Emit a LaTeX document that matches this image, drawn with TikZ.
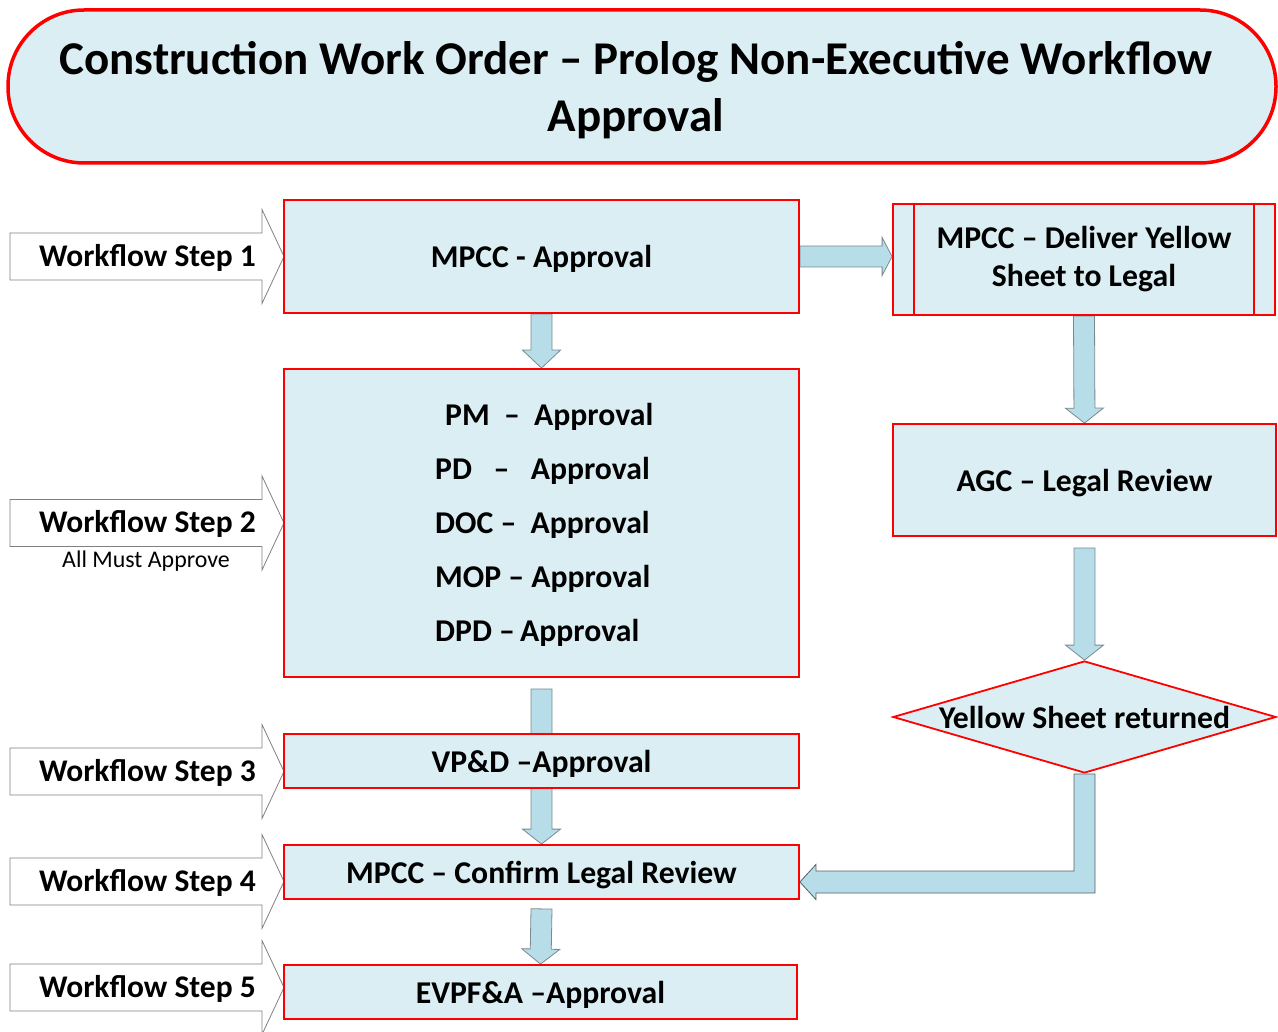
\documentclass[tikz,border=0pt]{standalone}
\usepackage{fontspec}
\setmainfont{Carlito}
\usetikzlibrary{shapes.geometric, calc, positioning, backgrounds}

\definecolor{boxblue}{HTML}{DAEEF3}
\definecolor{arrowblue}{HTML}{B7DDE8}
\definecolor{arrowgray}{HTML}{7A8A90}

% block arrow from #1 to #2, head length #3
\newcommand{\blockarrow}[3][15pt]{%
  \coordinate (hb) at ($(#3)!#1!(#2)$);
  \filldraw[blockarrow] ($(#2)!10.5pt!90:(#3)$) -- ($(hb)!10.5pt!90:(#3)$)
    -- ($(hb)!19pt!90:(#3)$) -- (#3) -- ($(hb)!19pt!-90:(#3)$)
    -- ($(hb)!10.5pt!-90:(#3)$) -- ($(#2)!10.5pt!-90:(#3)$) -- cycle;}

\tikzset{
  box/.style={draw=red, line width=1.8pt, fill=boxblue, inner sep=0pt,
    font=\bfseries\fontsize{31.7}{38}\selectfont},
  boxtext/.style={font=\bfseries\fontsize{31.7}{38}\selectfont, inner sep=0pt, text depth=0pt},
  blockarrow/.style={fill=arrowblue, draw=arrowgray, line width=0.8pt},
  steparrow/.style={fill=white, draw=gray, line width=0.8pt},
  steptext/.style={font=\bfseries\fontsize{31.5}{38}\selectfont, inner sep=0pt},
  approval/.style={font=\bfseries\fontsize{31.7}{38}\selectfont, inner sep=0pt, anchor=west}
}

\begin{document}
\begin{tikzpicture}[x=1pt, y=-1pt]
\useasboundingbox (0,0) rectangle (1278,1032);

% title
\node[draw=red, line width=3.5pt, fill=boxblue, rounded corners=76pt,
      minimum width=1268pt, minimum height=153pt] (title) at (642,86.5) {};
\node[align=center, inner sep=0pt, font=\bfseries\fontsize{47}{57}\selectfont] (titletext)
  at (636,90) {Construction Work Order -- Prolog Non-Executive Workflow\\Approval};

% workflow steps
\foreach \y/\n in {256.5/1, 523/2, 771.5/3, 881.5/4, 987.5/5} {
  \draw[steparrow] (10,\y-23.5) -- (262,\y-23.5) -- (262,\y-47) -- (284,\y)
    -- (262,\y+47) -- (262,\y+23.5) -- (10,\y+23.5) -- cycle;
  \node[steptext, anchor=east] (step\n) at (256,\y+1) {Workflow Step \n};
}
\node[font=\fontsize{23.9}{28}\selectfont, inner sep=0pt] (allmust) at (146,561) {All Must Approve};

% left column
\node[box, minimum width=515pt, minimum height=113pt] (mpcc) at (541.5,256.5) {};
\node[boxtext] (mpcctext) at (mpcc.center) {MPCC - Approval};
\node[box, minimum width=515pt, minimum height=308pt] (approvals) at (541.5,523) {};
\node[approval] (pm) at (445,417) {PM\ \ --\ \ Approval};
\node[approval] (pd) at (435,471) {PD\ \ \ --\ \ \ Approval};
\node[approval] (doc) at (435,525) {DOC\ --\ \ Approval};
\node[approval] (mop) at (435,579) {MOP\ --\ Approval};
\node[approval] (dpd) at (435,633) {DPD --\,Approval};
\node[box, minimum width=515pt, minimum height=54pt] (vpd) at (541.5,761) {};
\node[boxtext] (vpdtext) at (vpd.center) {VP\&D --Approval};
\node[box, minimum width=515pt, minimum height=54pt] (confirm) at (541.5,872) {};
\node[boxtext] (confirmtext) at (confirm.center) {MPCC -- Confirm Legal Review};
\node[box, minimum width=513pt, minimum height=54pt] (evpfa) at (540.5,992) {};
\node[boxtext] (evpfatext) at (evpfa.center) {EVPF\&A --Approval};

% right column
\node[box, minimum width=382pt, minimum height=111pt, align=center,
      font=\bfseries\fontsize{31.7}{38}\selectfont] (deliver) at (1084,259.5)
  {MPCC -- Deliver Yellow\\Sheet to Legal};
\draw[red, line width=1.8pt] ([xshift=22pt]deliver.north west) -- ([xshift=22pt]deliver.south west);
\draw[red, line width=1.8pt] ([xshift=-22pt]deliver.north east) -- ([xshift=-22pt]deliver.south east);
\node[box, minimum width=383pt, minimum height=112pt] (agc) at (1084.5,480) {};
\node[boxtext] (agctext) at (agc.center) {AGC -- Legal Review};
\node[box, diamond, minimum width=383pt, minimum height=112pt] (dia) at (1084.5,717) {};
\node[boxtext] (returned) at (dia.center) {Yellow Sheet returned};

% block arrows behind the boxes
\begin{pgfonlayer}{background}
\blockarrow[18pt]{mpcc.south}{approvals.north}
\blockarrow{$(approvals.south)+(0,11)$}{confirm.north}
\blockarrow{$(confirm.south)+(0,9)$}{evpfa.north}
\blockarrow[10pt]{mpcc.east}{mpcc.east -| deliver.west}
\blockarrow{deliver.south}{agc.north}
\blockarrow{$(agc.south)+(0,11)$}{dia.north}
\coordinate (tip) at ($(confirm.east)+(0,10)$);
\coordinate (elbow) at (dia.south |- tip);
\filldraw[blockarrow, draw=arrowgray!70!black] ($(dia.south)+(-10.5,0)$) -- ($(elbow)+(-10.5,-11)$)
  -- ($(tip)+(16,-11)$) -- ($(tip)+(16,-17.5)$) -- (tip)
  -- ($(tip)+(16,17.5)$) -- ($(tip)+(16,11)$)
  -- ($(elbow)+(10.5,11)$) -- ($(dia.south)+(10.5,0)$) -- cycle;
\end{pgfonlayer}
\end{tikzpicture}
\end{document}
